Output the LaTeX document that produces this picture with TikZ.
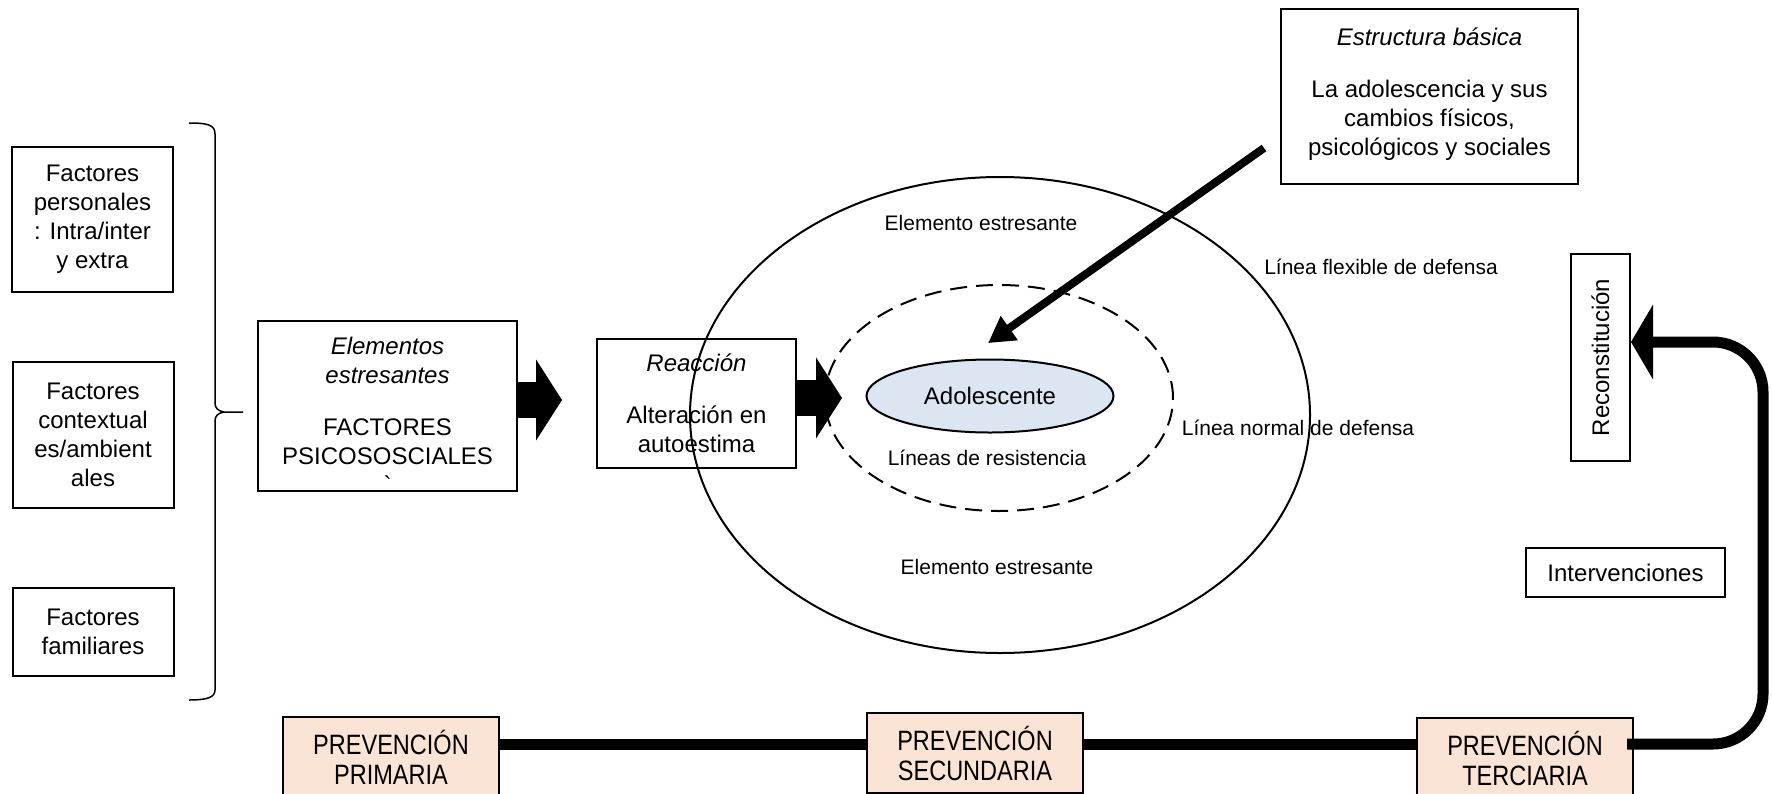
\documentclass[tikz,border=0pt]{standalone}
\usepackage{fontspec}
\setmainfont{Liberation Sans}
\newfontfamily\narrowfont[FakeStretch=0.84]{Liberation Sans}
\usetikzlibrary{arrows.meta,positioning,shapes.geometric}
\definecolor{peach}{HTML}{FBE4D5}
\definecolor{paleblue}{HTML}{DCE6F2}

\begin{document}
\begin{tikzpicture}[x=0.5pt,y=-0.5pt,
		box/.style={draw,line width=1pt,align=center,inner sep=2pt,font=\fontsize{12}{14.5}\selectfont},
		prev/.style={box,fill=peach,minimum width=108pt,minimum height=40pt,font=\narrowfont\fontsize{14}{15}\selectfont},
		tag/.style={font=\fontsize{10.5}{12.5}\selectfont},
		ring/.style={draw,ellipse,line width=1pt,inner sep=0pt},
		fat/.style={line width=18pt,-{Triangle[length=13pt,width=40pt]}},
		band/.style={line width=5.5pt}]
			\path[use as bounding box,clip] (0,0) rectangle (1772,793);
			\node[box,minimum width=80.5pt,minimum height=72.5pt] (fper) at (92.5,219.5) {Factores\\personales\\: Intra/inter\\y extra};
			\node[box,minimum width=80.5pt,minimum height=73pt] (fctx) at (93,435) {Factores\\contextual\\es/ambient\\ales};
			\node[box,minimum width=80.5pt,minimum height=44pt] (ffam) at (93,632) {Factores\\familiares};
			\node[box,minimum width=129.5pt,minimum height=85pt] (elem) at (387.5,406) {};
			\node[align=center,font=\fontsize{12}{14.5}\selectfont] (elemtxt) at (387.5,415) {\textit{Elementos}\\\textit{estresantes}\\[11.5pt]FACTORES\\PSICOSOSCIALES\\\textasciigrave};
			\node[box,minimum width=99.5pt,minimum height=64.5pt] (reac) [right=154.5pt of elem.center,anchor=center,yshift=1.25pt] {\textit{Reacción}\\[11.5pt]Alteración en\\autoestima};
			\node[box,minimum width=148.5pt,minimum height=87.5pt] (estr) at (1429.5,96.5) {\textit{Estructura básica}\\[11.5pt]La adolescencia y sus\\cambios físicos,\\psicológicos y sociales\rule[-5pt]{0pt}{0pt}};
			\node[box,rotate=90,minimum width=103.5pt,minimum height=29.5pt] (recon) at (1600.5,357.5) {Reconstitución};
			\node[box,minimum width=99.5pt,minimum height=24.5pt] (interv) at (1625.5,572.5) {Intervenciones};
			\node[prev] (prim) at (391,757) {PREVENCIÓN\\PRIMARIA};
			\node[prev] (secu) at (975,753) {PREVENCIÓN\\SECUNDARIA};
			\node[prev] (terc) at (1525,758) {PREVENCIÓN\\TERCIARIA};
			\node[ring,minimum width=310pt,minimum height=238pt] (flex) at (1000,415) {};
			\node[ring,dash pattern=on 8.5pt off 4.5pt,minimum width=174pt,minimum height=113pt] (norm) at (999,398) {};
			\node[ring,fill=paleblue,minimum width=123.5pt,minimum height=36.5pt,font=\fontsize{12}{14}\selectfont] (adol) at (990,396) {Adolescente};
			\node[tag] (stop) at (981,223) {Elemento estresante};
			\node[tag] (sbot) at (997,567) {Elemento estresante};
			\node[tag] (lres) at (987,458) {Líneas de resistencia};
			\node[tag] (lflex) at (1381,267) {Línea flexible de defensa};
			\node[tag] (lnorm) at (1298,428) {Línea normal de defensa};
			\draw[line width=0.75pt] (189,123) .. controls (208,123) and (215,125) .. (215,134) -- (215,403)
			.. controls (215,408) and (218,411) .. (224,412) -- (243,412)
			(224,412) .. controls (218,413) and (215,416) .. (215,421) -- (215,690)
			.. controls (215,697) and (208,700) .. (189,700);
			\draw[fat] (elem.east |- 0,400) -- ([xshift=-17pt]reac.west |- 0,400);
			\draw[fat] (reac.east |- norm.west) -- ([xshift=9pt]norm.west);
			\coordinate (sfrom) at (1264,148);
			\draw[line width=4pt,-{Triangle[length=13pt,width=14pt]},shorten >=14pt] (sfrom) -- (adol.124);
			\coordinate (bandy) at (0,744);
			\coordinate (turn) at (1763,342);
			\draw[band] (prim.east |- bandy) -- (secu.west |- bandy)
			(secu.east |- bandy) -- (terc.west |- bandy);
			\draw[band,rounded corners=25pt,-{Triangle[length=11pt,width=37pt]}] ([xshift=-3.5pt]terc.east |- bandy) -| (turn) -- (recon.south |- turn);
		\end{tikzpicture}
\end{document}
